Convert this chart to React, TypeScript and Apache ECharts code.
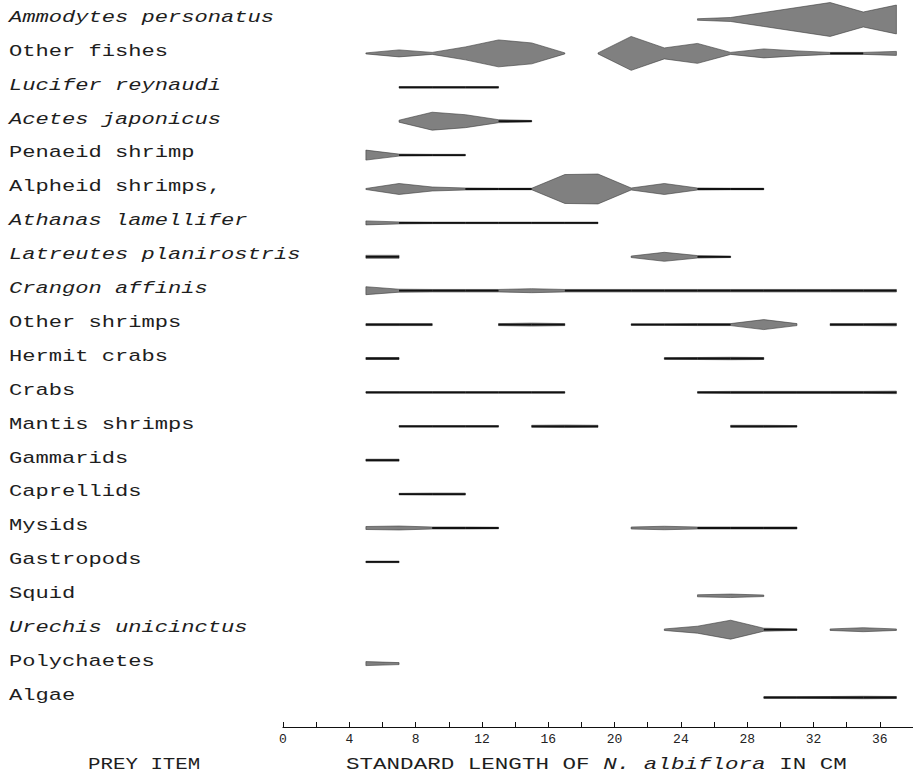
import React, { useEffect, useRef } from "react";
import * as echarts from "echarts";

// Prey items, top to bottom
const PREY_ITEMS = [
  "Ammodytes personatus",
  "Other fishes",
  "Lucifer reynaudi",
  "Acetes japonicus",
  "Penaeid shrimp",
  "Alpheid shrimps,",
  "Athanas lamellifer",
  "Latreutes planirostris",
  "Crangon affinis",
  "Other shrimps",
  "Hermit crabs",
  "Crabs",
  "Mantis shrimps",
  "Gammarids",
  "Caprellids",
  "Mysids",
  "Gastropods",
  "Squid",
  "Urechis unicinctus",
  "Polychaetes",
  "Algae",
];
const ITALIC_ITEMS = [
  "Ammodytes personatus",
  "Lucifer reynaudi",
  "Acetes japonicus",
  "Athanas lamellifer",
  "Latreutes planirostris",
  "Crangon affinis",
  "Urechis unicinctus",
];

// Kite profiles: segments of [standard length (cm), relative frequency width]
const AMMODYTES_PERSONATUS = [[[25, 1.5], [27, 4], [29, 14], [31, 24], [33, 34], [35, 15], [37, 29]]];
const OTHER_FISHES = [
  [[5, 1], [7, 7], [9, 2], [11, 13], [13, 27], [15, 21], [17, 1]],
  [[19, 1], [21, 34], [23, 11], [25, 20], [27, 2], [29, 9], [31, 5], [33, 2], [35, 2], [37, 4]],
];
const LUCIFER_REYNAUDI = [[[7, 1.5], [9, 1.5], [11, 1.5], [13, 1.5]]];
const ACETES_JAPONICUS = [[[7, 2], [9, 18], [11, 13], [13, 3], [15, 1.5]]];
const PENAEID_SHRIMP = [[[5, 10], [7, 2], [9, 1.5], [11, 1.5]]];
const ALPHEID_SHRIMPS = [
  [[5, 1], [7, 11], [9, 4], [11, 2], [13, 1.5], [15, 1.5], [17, 29], [19, 30], [21, 2], [23, 11], [25, 2], [27, 1.5], [29, 1.5]],
];
const ATHANAS_LAMELLIFER = [[[5, 4], [7, 2], [9, 1.5], [11, 1.5], [13, 1.5], [15, 1.5], [17, 1.5], [19, 1.5]]];
const LATREUTES_PLANIROSTRIS = [
  [[5, 3], [7, 3]],
  [[21, 1.5], [23, 9], [25, 2.5], [27, 1.5]],
];
const CRANGON_AFFINIS = [
  [[5, 8], [7, 3], [9, 2.5], [11, 2.5], [13, 2.5], [15, 4], [17, 2.5], [19, 2.5], [21, 2.5], [23, 2.5], [25, 2.5], [27, 2.5], [29, 2.5], [31, 2.5], [33, 2.5], [35, 2.5], [37, 2.5]],
];
const OTHER_SHRIMPS = [
  [[5, 2], [7, 2], [9, 2]],
  [[13, 2], [15, 3], [17, 2]],
  [[21, 1.5], [23, 1.5], [25, 2], [27, 2], [29, 10], [31, 2]],
  [[33, 2], [35, 2], [37, 2.5]],
];
const HERMIT_CRABS = [
  [[5, 2], [7, 2]],
  [[23, 1.5], [25, 2], [27, 2.5], [29, 2]],
];
const CRABS = [
  [[5, 1.5], [7, 1.5], [9, 1.5], [11, 1.5], [13, 1.5], [15, 1.5], [17, 1.5]],
  [[25, 1.5], [27, 2], [29, 2], [31, 2], [33, 2], [35, 2], [37, 2.5]],
];
const MANTIS_SHRIMPS = [
  [[7, 1.5], [9, 1.5], [11, 1.5], [13, 1.5]],
  [[15, 2], [17, 2.5], [19, 2]],
  [[27, 2], [29, 2], [31, 1.5]],
];
const GAMMARIDS = [[[5, 2], [7, 2]]];
const CAPRELLIDS = [[[7, 1.5], [9, 2], [11, 2]]];
const MYSIDS = [
  [[5, 3], [7, 4], [9, 2], [11, 2], [13, 1.5]],
  [[21, 2], [23, 3.5], [25, 2], [27, 2], [29, 2], [31, 2]],
];
const GASTROPODS = [[[5, 1.5], [7, 1.5]]];
const SQUID = [[[25, 2], [27, 3.5], [29, 1.5]]];
const URECHIS_UNICINCTUS = [
  [[23, 1.5], [25, 7], [27, 19], [29, 3], [31, 1.5]],
  [[33, 1.5], [35, 4], [37, 1.5]],
];
const POLYCHAETES = [[[5, 4], [7, 2]]];
const ALGAE = [[[29, 1.5], [31, 1.5], [33, 2], [35, 2.5], [37, 2]]];

const KITES = [
  AMMODYTES_PERSONATUS, OTHER_FISHES, LUCIFER_REYNAUDI, ACETES_JAPONICUS, PENAEID_SHRIMP,
  ALPHEID_SHRIMPS, ATHANAS_LAMELLIFER, LATREUTES_PLANIROSTRIS, CRANGON_AFFINIS, OTHER_SHRIMPS,
  HERMIT_CRABS, CRABS, MANTIS_SHRIMPS, GAMMARIDS, CAPRELLIDS, MYSIDS, GASTROPODS, SQUID,
  URECHIS_UNICINCTUS, POLYCHAETES, ALGAE,
];

const X_MIN = 0;
const X_MAX = 38;
const X_TICK = 2;
const X_LABEL_STEP = 4;

const FREQ_PER_ROW = 34; // width units per row spacing
const MONO = '"Liberation Mono", "DejaVu Sans Mono", monospace';

type Seg = { row: number; pts: number[][] };
const SEGMENTS: Seg[] = [];
KITES.forEach((segs, row) => segs.forEach((pts) => SEGMENTS.push({ row, pts })));

export default function App() {
  const ref = useRef<HTMLDivElement>(null);
  useEffect(() => {
    if (!ref.current) return;
    const chart = echarts.init(ref.current, null, { renderer: "svg" });
    chart.setOption({
      animation: false,
      backgroundColor: "#ffffff",
      grid: { left: 283, right: -4, top: 0, bottom: 48, containLabel: false },
      xAxis: {
        type: "value",
        position: "bottom",
        min: X_MIN,
        max: X_MAX,
        interval: X_TICK,
        axisLine: { show: true, onZero: false, lineStyle: { color: "#111", width: 1.2 } },
        axisTick: { show: true, inside: true, length: 5, lineStyle: { color: "#111", width: 1 } },
        axisLabel: {
          formatter: (v: number) => (v % X_LABEL_STEP === 0 ? String(v) : ""),
          color: "#222",
          fontFamily: MONO,
          fontSize: 13,
          margin: 6,
          showMaxLabel: false,
        },
        splitLine: { show: false },
      },
      yAxis: {
        type: "value",
        inverse: true,
        min: -0.575,
        max: 20.87,
        show: false,
      },
      series: [
        {
          type: "custom",
          data: SEGMENTS.map((s) => [s.pts[0][0], s.row]),
          clip: false,
          renderItem: (params: any, api: any) => {
            const seg = SEGMENTS[params.dataIndex];
            const row = seg.row;
            const upper = seg.pts.map(([x, w]) => api.coord([x, row - w / 2 / FREQ_PER_ROW]));
            const lower = seg.pts
              .slice()
              .reverse()
              .map(([x, w]) => api.coord([x, row + w / 2 / FREQ_PER_ROW]));
            const children: any[] = [
              {
                type: "polygon",
                shape: { points: upper.concat(lower) },
                style: { fill: "#808080", stroke: "#3a3a3a", lineWidth: 0.6 },
              },
            ];
            for (let k = 0; k < seg.pts.length - 1; k++) {
              const a = seg.pts[k];
              const b = seg.pts[k + 1];
              if (Math.max(a[1], b[1]) <= 3) {
                const p1 = api.coord([a[0], row]);
                const p2 = api.coord([b[0], row]);
                children.push({
                  type: "line",
                  shape: { x1: p1[0], y1: p1[1], x2: p2[0], y2: p2[1] },
                  style: { stroke: "#111", lineWidth: 1.8 },
                });
              }
            }
            return { type: "group", children };
          },
        },
      ],
    });

    const graphics: any[] = PREY_ITEMS.map((name, i) => {
      const y = chart.convertToPixel({ gridIndex: 0 }, [0, i])[1];
      const italic = ITALIC_ITEMS.indexOf(name) >= 0;
      return {
        type: "text",
        x: 9,
        y: y - 2,
        scaleX: 1.3,
        style: {
          text: name,
          fontFamily: MONO,
          fontSize: 17,
          fontStyle: italic ? "italic" : "normal",
          fill: "#1e1e1e",
          align: "left",
          verticalAlign: "middle",
        },
      };
    });
    graphics.push({
      type: "text",
      x: 88,
      y: 765,
      scaleX: 1.3,
      style: {
        text: "PREY ITEM",
        fontFamily: MONO,
        fontSize: 16,
        fill: "#1e1e1e",
        align: "left",
        verticalAlign: "middle",
      },
    });
    graphics.push({
      type: "text",
      x: 346,
      y: 765,
      scaleX: 1.41,
      style: {
        text: "STANDARD LENGTH OF {it|N. albiflora} IN CM",
        fontFamily: MONO,
        fontSize: 16,
        fill: "#1e1e1e",
        align: "left",
        verticalAlign: "middle",
        rich: {
          it: { fontFamily: MONO, fontSize: 16, fontStyle: "italic", fill: "#1e1e1e" },
        },
      },
    });
    chart.setOption({ graphic: graphics });

    return () => chart.dispose();
  }, []);
  return (
    <div
      ref={ref}
      style={{ position: "fixed", left: 0, top: 0, width: 913, height: 775, background: "#fff" }}
    />
  );
}
